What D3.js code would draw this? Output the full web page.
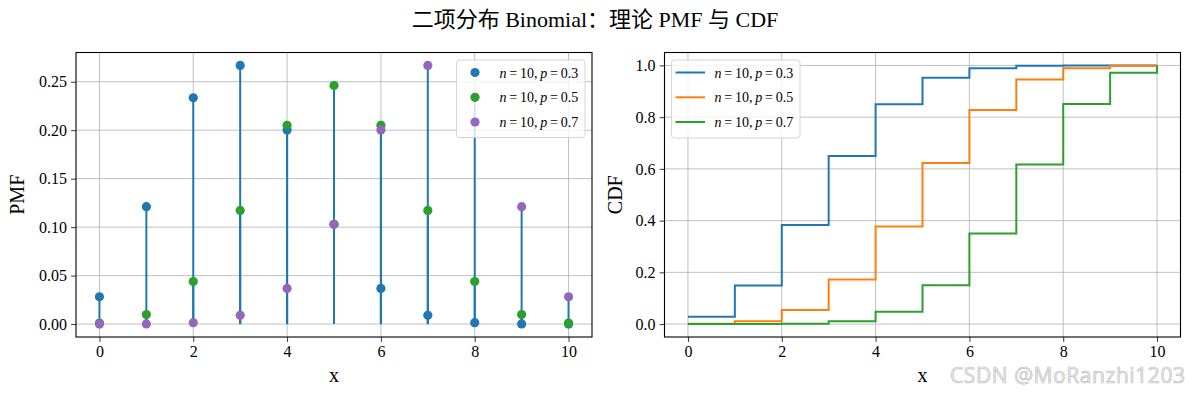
<!DOCTYPE html>
<html>
<head>
<meta charset="utf-8">
<script src="https://cdn.jsdelivr.net/npm/d3@7"></script>
<style>
  body { margin: 0; background: #fff; }
  svg text { font-family: "Liberation Serif", "Noto Sans CJK SC", serif; fill: #000; }
</style>
</head>
<body>
<script>
// data
const xs = [0, 1, 2, 3, 4, 5, 6, 7, 8, 9, 10];
const pvals = ["0.3", "0.5", "0.7"];
const pmf03 = [0.0282, 0.1211, 0.2335, 0.2668, 0.2001, 0.1029, 0.0368, 0.0090, 0.0014, 0.0001, 0.0000];
const pmf05 = [0.0010, 0.0098, 0.0439, 0.1172, 0.2051, 0.2461, 0.2051, 0.1172, 0.0439, 0.0098, 0.0010];
const pmf07 = [0.0000, 0.0001, 0.0014, 0.0090, 0.0368, 0.1029, 0.2001, 0.2668, 0.2335, 0.1211, 0.0282];
const cdf03 = [0.0282, 0.1493, 0.3828, 0.6496, 0.8497, 0.9527, 0.9894, 0.9984, 0.9999, 1.0000, 1.0000];
const cdf05 = [0.0010, 0.0107, 0.0547, 0.1719, 0.3770, 0.6230, 0.8281, 0.9453, 0.9893, 0.9990, 1.0000];
const cdf07 = [0.0000, 0.0001, 0.0016, 0.0106, 0.0473, 0.1503, 0.3504, 0.6172, 0.8507, 0.9718, 1.0000];
const xTicks = [0, 2, 4, 6, 8, 10];
const pmfTicks = [0, 0.05, 0.10, 0.15, 0.20, 0.25];
const cdfTicks = [0, 0.2, 0.4, 0.6, 0.8, 1.0];

const pmfColors = ["#1f77b4", "#2ca02c", "#9467bd"];
const cdfColors = ["#1f77b4", "#ff7f0e", "#2ca02c"];
const pmfs = [pmf03, pmf05, pmf07];
const cdfs = [cdf03, cdf05, cdf07];

const W = 1189, H = 396;
const svg = d3.select("body").append("svg").attr("width", W).attr("height", H);

// title
svg.append("text")
  .attr("x", 595).attr("y", 27)
  .attr("text-anchor", "middle")
  .style("font-size", "22px")
  .text("二项分布 Binomial：理论 PMF 与 CDF");

const plotTop = 52.5, plotBottom = 337;

function makeAxes(left, right, yDomain, yTicks, yFmt, ylabel, labelOff) {
  const g = svg.append("g");
  const x = d3.scaleLinear().domain([-0.5, 10.5]).range([left, right]);
  const y = d3.scaleLinear().domain(yDomain).range([plotBottom, plotTop]);

  // grid
  g.append("g").selectAll("line").data(xTicks).join("line")
    .attr("x1", d => x(d)).attr("x2", d => x(d))
    .attr("y1", plotTop).attr("y2", plotBottom)
    .attr("stroke", "#b0b0b0").attr("stroke-width", 0.8);
  g.append("g").selectAll("line").data(yTicks).join("line")
    .attr("x1", left).attr("x2", right)
    .attr("y1", d => y(d)).attr("y2", d => y(d))
    .attr("stroke", "#b0b0b0").attr("stroke-width", 0.8);

  const xa = g.append("g").attr("transform", `translate(0,${plotBottom})`)
    .call(d3.axisBottom(x).tickValues(xTicks).tickFormat(d3.format("d")).tickSizeOuter(0).tickSize(4.9).tickPadding(4));
  const ya = g.append("g").attr("transform", `translate(${left},0)`)
    .call(d3.axisLeft(y).tickValues(yTicks).tickFormat(d3.format(yFmt)).tickSizeOuter(0).tickSize(4.9).tickPadding(4));
  [xa, ya].forEach(a => {
    a.attr("font-family", null).attr("font-size", null);
    a.select(".domain").remove();
    a.selectAll("text").style("font-size", "16px");
    a.selectAll("line").attr("stroke", "#000").attr("stroke-width", 0.8);
  });

  g.append("text").attr("x", (left + right) / 2).attr("y", 382)
    .attr("text-anchor", "middle").style("font-size", "20px").text("x");
  g.append("text")
    .attr("transform", `translate(${left - labelOff},${(plotTop + plotBottom) / 2}) rotate(-90)`)
    .attr("text-anchor", "middle").style("font-size", "20px").text(ylabel);

  return { g, x, y, left, right };
}

// left: PMF
const A = makeAxes(76, 592, [-0.01334, 0.28016], pmfTicks, ".2f", "PMF", 52);
const stems = A.g.append("g");
pmfs.forEach(vals => {
  stems.selectAll(null).data(xs).join("line")
    .attr("x1", d => A.x(d)).attr("x2", d => A.x(d))
    .attr("y1", A.y(0)).attr("y2", (d, i) => A.y(vals[i]))
    .attr("stroke", "#1f77b4").attr("stroke-width", 2);
});
pmfs.forEach((vals, k) => {
  A.g.append("g").selectAll("circle").data(xs).join("circle")
    .attr("cx", d => A.x(d)).attr("cy", (d, i) => A.y(vals[i]))
    .attr("r", 4.6).attr("fill", pmfColors[k]);
});

// right: CDF
const B = makeAxes(664.5, 1180.5, [-0.05, 1.05], cdfTicks, ".1f", "CDF", 43);
const line = d3.line().x(d => B.x(d[0])).y(d => B.y(d[1])).curve(d3.curveStepAfter);
cdfs.forEach((vals, k) => {
  B.g.append("path")
    .datum(xs.map((d, i) => [d, vals[i]]))
    .attr("d", line).attr("fill", "none")
    .attr("stroke", cdfColors[k]).attr("stroke-width", 2);
});

// spines
[A, B].forEach(a => {
  a.g.append("rect").attr("x", a.left).attr("y", plotTop)
    .attr("width", a.right - a.left).attr("height", plotBottom - plotTop)
    .attr("fill", "none").attr("stroke", "#000").attr("stroke-width", 1.1);
});

// legends
function legend(x0, x1, y0, y1, kind, colors) {
  const g = svg.append("g");
  g.append("rect").attr("x", x0).attr("y", y0).attr("width", x1 - x0).attr("height", y1 - y0)
    .attr("rx", 3).attr("fill", "#fff").attr("fill-opacity", 0.8)
    .attr("stroke", "#d6d6d6").attr("stroke-width", 1);
  const rows = [y0 + 12.5, y0 + 37.3, y0 + 62];
  pvals.forEach((p, i) => {
    if (kind === "marker") {
      g.append("circle").attr("cx", x0 + 18.5).attr("cy", rows[i]).attr("r", 4.6).attr("fill", colors[i]);
    } else {
      g.append("line").attr("x1", x0 + 4).attr("x2", x0 + 33.5)
        .attr("y1", rows[i]).attr("y2", rows[i]).attr("stroke", colors[i]).attr("stroke-width", 2);
    }
    const t = g.append("text").attr("x", x0 + 43).attr("y", rows[i] + 5)
      .style("font-size", "14px");
    t.append("tspan").style("font-style", "italic").text("n");
    t.append("tspan").text("\u2009=\u200910,\u2009");
    t.append("tspan").style("font-style", "italic").text("p");
    t.append("tspan").text("\u2009=\u2009" + p);
  });
}
legend(456.5, 585, 60, 137.5, "marker", pmfColors);
legend(671.5, 800, 60, 138, "line", cdfColors);

// watermark
svg.append("text").attr("x", 1185).attr("y", 383).attr("text-anchor", "end")
  .style("font-family", "'Open Sans', 'DejaVu Sans', sans-serif").style("font-size", "21px")
  .style("fill", "#ebebeb").style("stroke", "#c4c4c4").style("stroke-width", "0.7px")
  .attr("textLength", 235)
  .text("CSDN @MoRanzhi1203");
</script>
</body>
</html>
